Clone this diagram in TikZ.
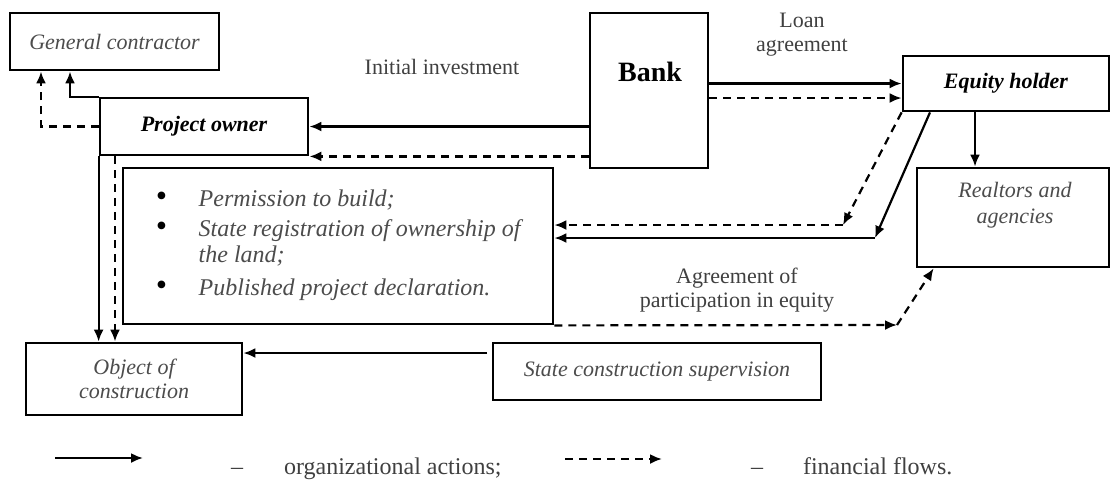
\documentclass[tikz,border=0pt]{standalone}
\usepackage{fontspec}
\setmainfont{Liberation Serif}
\usetikzlibrary{arrows.meta, positioning, calc}
\tikzset{
    >={Latex[length=6pt,width=5pt]}, % filled arrow heads
    box/.style={draw, line width=1.4pt, inner sep=2pt}, % every frame
    act/.style={->, line width=1.1pt}, % organizational actions
    flow/.style={->, line width=1.1pt, dash pattern=on 4pt off 3pt}, % financial flows
    note/.style={font=\fontsize{11}{12}\selectfont, text=black!75, align=center}, % labels on the arrows
    party/.style={font=\fontsize{11}{12}\selectfont\itshape, text=black!70, align=center}, % italic names
    lead/.style={font=\fontsize{11}{12}\selectfont\bfseries\itshape}, % bold italic names
}
\newcommand{\dotmark}{\textcolor{black}{\fontsize{16}{13}\selectfont\textbullet}}

\begin{document}
\begin{tikzpicture}[x=0.5pt, y=-0.5pt]

        \fill[white] (0,0) rectangle (1110,479);
        \useasboundingbox (0,0) rectangle (1110,479);

        % Nodes
        \node[box, party, minimum width=104.5pt, minimum height=28.5pt] (gc) at (114.5,41.5) {General contractor};
        \node[box, lead, minimum width=104pt, minimum height=28.5pt] (owner) at (204,126.5) {Project owner};
        \node[box, minimum width=59pt, minimum height=77.5pt] (bank) at (649,90.5) {};
        \node[font=\fontsize{14}{16}\selectfont\bfseries] (bankname) at (650,72) {Bank};
        \node[box, lead, minimum width=103pt, minimum height=27.5pt] (equity) at (1006,83.5) {Equity holder};
        \node[box, minimum width=96pt, minimum height=49.5pt] (realtors) at (1013,217.5) {};
        \node[party, font=\fontsize{11}{13}\selectfont\itshape] (realtorsname) at (1015,205) {Realtors and\\agencies};
        \node[box, minimum width=215pt, minimum height=78pt,
              font=\fontsize{12}{13}\selectfont\itshape, text=black!70] (perm) at (338,246) {
            \begin{tabular}{@{}l@{\hspace{16pt}}l@{}}
                \dotmark & Permission to build;\\[2pt]
                \dotmark & State registration of ownership of\\
                         & the land;\\[3.5pt]
                \dotmark & Published project declaration.
            \end{tabular}
            };
        \node[box, party, minimum width=108pt, minimum height=36pt] (object) at (134,379) {Object of\\construction};
        \node[box, party, minimum width=164pt, minimum height=28.5pt] (state) at (657,371.5) {State construction supervision};

        % labels
        \node[note] (invest) at (442,67) {Initial investment};
        \node[note] (loan) at (802,35) {Loan\\agreement};
        \node[note] (agree) at (737,290) {Agreement of\\participation in equity};

        % helper points
        \coordinate (gcSolid) at (70,0);
        \coordinate (gcDash) at (41,0);
        \coordinate (eqFlow) at (0,98);
        \coordinate (realIn) at (975,0);
        \coordinate (eqAct) at (930,0);
        \coordinate (permAct) at (875,238);
        \coordinate (permFlow) at (843,225);
        \coordinate (agreeEnd) at (897,325);
        \coordinate (objFlow) at (115,0);
        \coordinate (supAct) at (487,353);

        % edges
        \draw[act] (owner.north west) -| (gcSolid |- gc.south);
        \draw[flow] (owner.west) -| (gcDash |- gc.south);
        \draw[act] (owner.east -| bank.west) -- (owner.east);
        \draw[flow] (owner.south east -| bank.west) -- (owner.south east);
        \draw[act] (equity.west -| bank.east) -- (equity.west);
        \draw[flow] (eqFlow -| bank.east) -- (eqFlow -| equity.west);
        \draw[act] (realIn |- equity.south) -- (realIn |- realtors.north);
        \draw[act] (eqAct |- equity.south) -- (permAct);
        \draw[act] (permAct) -- (permAct -| perm.east);
        \draw[flow] (equity.south west) -- (permFlow);
        \draw[flow] (permFlow) -- (permFlow -| perm.east);
        \draw[flow] (perm.south east) -- (agreeEnd);
        \draw[flow] (agreeEnd) -- ($(realtors.south west)+(18,0)$);
        \draw[act] (owner.south west) -- (owner.south west |- object.north);
        \draw[flow] (objFlow |- owner.south) -- (objFlow |- object.north);
        \draw[act] (supAct) -- (supAct -| object.east);

        % legend
        \coordinate (legActA) at (55,458);
        \coordinate (legActB) at (143,458);
        \coordinate (legFlowA) at (565,459);
        \coordinate (legFlowB) at (662,459);
        \draw[act] (legActA) -- (legActB);
        \draw[flow] (legFlowA) -- (legFlowB);
        \node[anchor=base, font=\fontsize{12}{14}\selectfont, text=black!75] (dashAct) at (237,474) {--};
        \node[anchor=base west, font=\fontsize{12}{14}\selectfont, text=black!75] (legAct) at (277,474) {organizational actions;};
        \node[anchor=base, font=\fontsize{12}{14}\selectfont, text=black!75] (dashFlow) at (757,474) {--};
        \node[anchor=base west, font=\fontsize{12}{14}\selectfont, text=black!75] (legFlow) at (796,474) {financial flows.};
    \end{tikzpicture}
\end{document}
